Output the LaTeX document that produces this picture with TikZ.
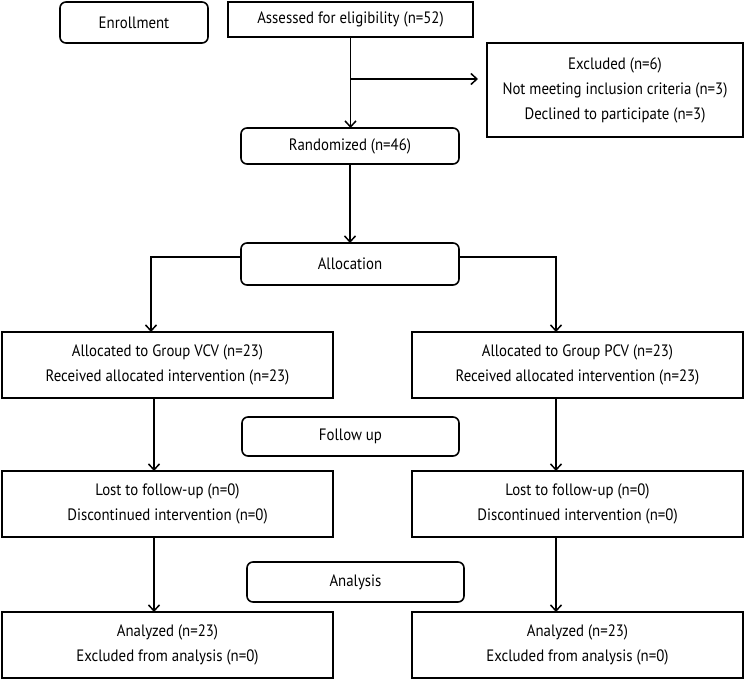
\documentclass[tikz,border=0pt]{standalone}
\usepackage{fontspec}
\setmainfont[FakeStretch=0.9]{PT Sans}
\usetikzlibrary{arrows.meta,calc}
\begin{document}
\begin{tikzpicture}[x=1pt,y=-1pt,line width=1.6pt,
  every node/.style={inner sep=0pt,outer sep=0pt,anchor=north west,align=center,
    font=\fontsize{16.5}{25}\selectfont},
  sq/.style={draw,rectangle},
  rnd/.style={draw,rectangle,rounded corners=6pt},
  arr/.style={-{Straight Barb[length=6pt,width=11pt,line width=1.5pt]}}]
\useasboundingbox (0,0) rectangle (745,680);
\node[rnd,minimum width=148pt,minimum height=41pt] (enroll) at (60,2) {Enrollment};
\node[sq,minimum width=245pt,minimum height=35pt] (assess) at (228,2) {Assessed for eligibility (n=52)};
\node[sq,minimum width=256pt,minimum height=94pt] (excl) at (487,43) {Excluded (n=6)\\Not meeting inclusion criteria (n=3)\\Declined to participate (n=3)};
\node[rnd,minimum width=218pt,minimum height=36pt] (rand) at (241,128) {Randomized (n=46)};
\node[rnd,minimum width=218pt,minimum height=42pt] (alloc) at (241,243) {Allocation};
\node[sq,minimum width=331pt,minimum height=66pt] (vcv) at (2,332) {Allocated to Group VCV (n=23)\\Received allocated intervention (n=23)};
\node[sq,minimum width=331pt,minimum height=66pt] (pcv) at (412,332) {Allocated to Group PCV (n=23)\\Received allocated intervention (n=23)};
\node[rnd,minimum width=217pt,minimum height=39pt] (follow) at (242,417) {Follow up};
\node[sq,minimum width=331pt,minimum height=66pt] (lostL) at (2,471) {Lost to follow-up (n=0)\\Discontinued intervention (n=0)};
\node[sq,minimum width=331pt,minimum height=66pt] (lostR) at (412,471) {Lost to follow-up (n=0)\\Discontinued intervention (n=0)};
\node[rnd,minimum width=217pt,minimum height=40pt] (analysis) at (247,562) {Analysis};
\node[sq,minimum width=331pt,minimum height=66pt] (anL) at (2,612) {Analyzed (n=23)\\Excluded from analysis (n=0)};
\node[sq,minimum width=331pt,minimum height=66pt] (anR) at (412,612) {Analyzed (n=23)\\Excluded from analysis (n=0)};
\coordinate (br) at ($(assess.south)+(0,42)$);
\draw[arr] (assess.south) -- (assess.south |- rand.north);
\draw[arr,shorten >=9pt] (br) -- (br -| excl.west);
\draw[arr] (rand.south) -- (alloc.north);
\coordinate (aL) at ($(alloc.west)+(0,-7)$);
\coordinate (aR) at ($(alloc.east)+(0,-7)$);
\draw[arr] (aL) -| ($(vcv.north west)+(149,0)$);
\draw[arr] (aR) -| ($(pcv.north west)+(144,0)$);
\draw[arr] ($(vcv.south west)+(152,0)$) -- ($(lostL.north west)+(152,0)$);
\draw[arr] ($(pcv.south west)+(144,0)$) -- ($(lostR.north west)+(144,0)$);
\draw[arr] ($(lostL.south west)+(152,0)$) -- ($(anL.north west)+(152,0)$);
\draw[arr] ($(lostR.south west)+(144,0)$) -- ($(anR.north west)+(144,0)$);
\end{tikzpicture}
\end{document}
